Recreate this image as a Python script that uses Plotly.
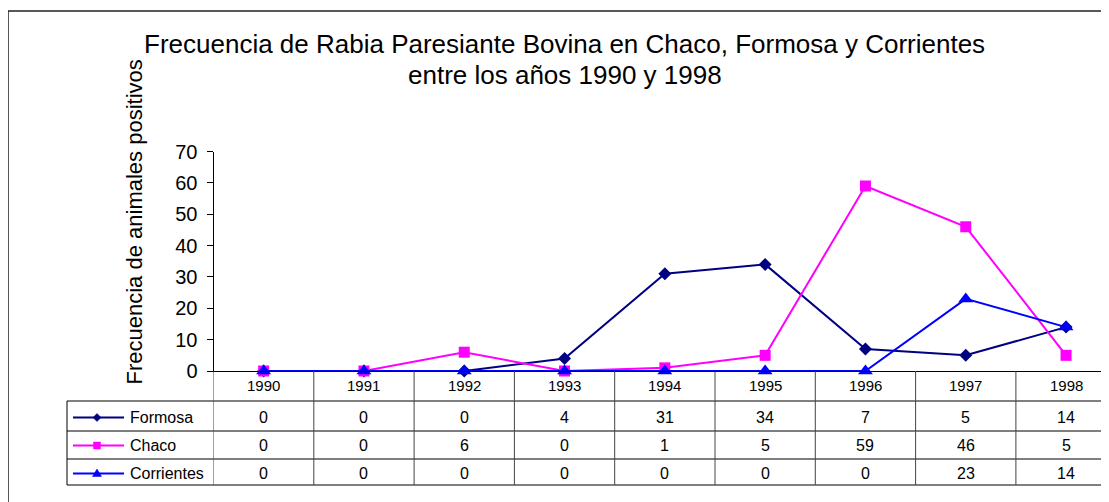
import plotly.graph_objects as go

years = ["1990", "1991", "1992", "1993", "1994", "1995", "1996", "1997", "1998"]
series_names = ["Formosa", "Chaco", "Corrientes"]
formosa = [0, 0, 0, 4, 31, 34, 7, 5, 14]
chaco = [0, 0, 6, 0, 1, 5, 59, 46, 5]
corrientes = [0, 0, 0, 0, 0, 0, 0, 23, 14]

title_line1 = "Frecuencia de Rabia Paresiante Bovina en Chaco, Formosa y Corrientes"
title_line2 = "entre los años 1990 y 1998"
ytitle_text = "Frecuencia de animales positivos"

W, H = 1109, 502
OFF = 8  # page body offset of the figure inside the browser window
FONT = "Arial, Liberation Sans, sans-serif"

def px(x):
    return (x - OFF) / W

def py(y):
    return 1 - (y - OFF) / H

values = [formosa, chaco, corrientes]
colors = ["#000080", "#FF00FF", "#0000FF"]
symbols = ["diamond", "square", "triangle-up"]
msizes = [10, 11, 13]

fig = go.Figure()

for name, vals, c, s, ms in zip(series_names, values, colors, symbols, msizes):
    fig.add_trace(go.Scatter(
        x=years, y=vals, mode="lines+markers", name=name,
        line=dict(color=c, width=2),
        marker=dict(symbol=s, size=ms, color=c),
        cliponaxis=False,
    ))

# Table geometry (screen pixel rows)
axis_y = 371
top_y = 151.5
row_bounds = [401, 431, 459, 485]
text_centers = [417.5, 445.5, 473.5]
header_center = 385.5
table_left = 67
key_x0, key_x1, key_mx = 73, 124, 97
name_x = 128

def pix_path(points):
    return "M " + " L ".join(f"{px(a)},{py(b)}" for a, b in points) + " Z"

shapes = []
# outer frame
shapes.append(dict(type="rect", xref="paper", yref="paper",
                   x0=px(8), x1=1.05, y0=-0.05, y1=py(11),
                   line=dict(color="#222222", width=1.5)))
# horizontal table lines
for yb in row_bounds:
    shapes.append(dict(type="line", xref="paper", yref="paper",
                       x0=px(table_left), x1=1.05, y0=py(yb), y1=py(yb),
                       line=dict(color="black", width=1)))
# left border of legend column
shapes.append(dict(type="line", xref="paper", yref="paper",
                   x0=px(table_left), x1=px(table_left),
                   y0=py(row_bounds[0]), y1=py(row_bounds[-1]),
                   line=dict(color="black", width=1)))
# vertical category lines
for i in range(len(years) + 1):
    shapes.append(dict(type="line", xref="x", yref="paper",
                       x0=i - 0.5, x1=i - 0.5,
                       y0=py(axis_y), y1=py(row_bounds[-1]),
                       line=dict(color="#444444", width=1)))
# legend keys: line + marker glyph
for rc, c, s in zip(text_centers, colors, symbols):
    shapes.append(dict(type="line", xref="paper", yref="paper",
                       x0=px(key_x0), x1=px(key_x1), y0=py(rc), y1=py(rc),
                       line=dict(color=c, width=2)))
    if s == "diamond":
        pts = [(key_mx, rc - 4), (key_mx + 4, rc), (key_mx, rc + 4), (key_mx - 4, rc)]
    elif s == "square":
        pts = [(key_mx - 3.5, rc - 3.5), (key_mx + 3.5, rc - 3.5), (key_mx + 3.5, rc + 3.5), (key_mx - 3.5, rc + 3.5)]
    else:
        pts = [(key_mx, rc - 4.5), (key_mx + 4.5, rc + 3), (key_mx - 4.5, rc + 3)]
    shapes.append(dict(type="path", xref="paper", yref="paper", path=pix_path(pts),
                       fillcolor=c, line=dict(color=c, width=0.5)))

annotations = []
annotations.append(dict(text=title_line1, xref="paper", yref="paper",
                        x=px(564.5), y=py(44), xanchor="center", yanchor="middle",
                        showarrow=False, font=dict(family=FONT, size=26, color="black")))
annotations.append(dict(text=title_line2, xref="paper", yref="paper",
                        x=px(564.5), y=py(75), xanchor="center", yanchor="middle",
                        showarrow=False, font=dict(family=FONT, size=26, color="black")))
annotations.append(dict(text=ytitle_text, xref="paper", yref="paper",
                        x=px(133.5), y=py(222), xanchor="center", yanchor="middle",
                        showarrow=False, textangle=-90,
                        font=dict(family=FONT, size=22, color="black")))
for i, yr in enumerate(years):
    annotations.append(dict(text=yr, xref="x", yref="paper", x=i, y=py(header_center),
                            xanchor="center", yanchor="middle", showarrow=False,
                            font=dict(family=FONT, size=15, color="black")))
for name, vals, rc in zip(series_names, values, text_centers):
    annotations.append(dict(text=name, xref="paper", yref="paper", x=px(name_x), y=py(rc),
                            xanchor="left", yanchor="middle", showarrow=False,
                            font=dict(family=FONT, size=16, color="black")))
    for i, v in enumerate(vals):
        annotations.append(dict(text=str(v), xref="x", yref="paper", x=i, y=py(rc),
                                xanchor="center", yanchor="middle", showarrow=False,
                                font=dict(family=FONT, size=16, color="black")))

cat_px = 100.3
x_left = 213.5
x_range_max = -0.5 + (W + OFF - x_left) / cat_px

fig.update_layout(
    template="none",
    width=W, height=H, autosize=False,
    margin=dict(l=0, r=0, t=0, b=0, pad=0, autoexpand=False),
    paper_bgcolor="white", plot_bgcolor="white",
    showlegend=False,
    shapes=shapes, annotations=annotations,
    xaxis=dict(type="category", categoryorder="array", categoryarray=years,
               domain=[px(x_left), 1], range=[-0.5, x_range_max], automargin=False,
               showline=True, linecolor="black", linewidth=1,
               showticklabels=False, ticks="", showgrid=False, zeroline=False),
    yaxis=dict(domain=[py(axis_y), py(top_y)], range=[0, 70], dtick=10, automargin=False,
               ticks="outside", ticklen=6, tickcolor="black", tickwidth=1,
               showline=True, linecolor="black", linewidth=1,
               showgrid=False, zeroline=False, ticklabelstandoff=5,
               tickfont=dict(family=FONT, size=20, color="black")),
)

fig.write_html("out.html")
